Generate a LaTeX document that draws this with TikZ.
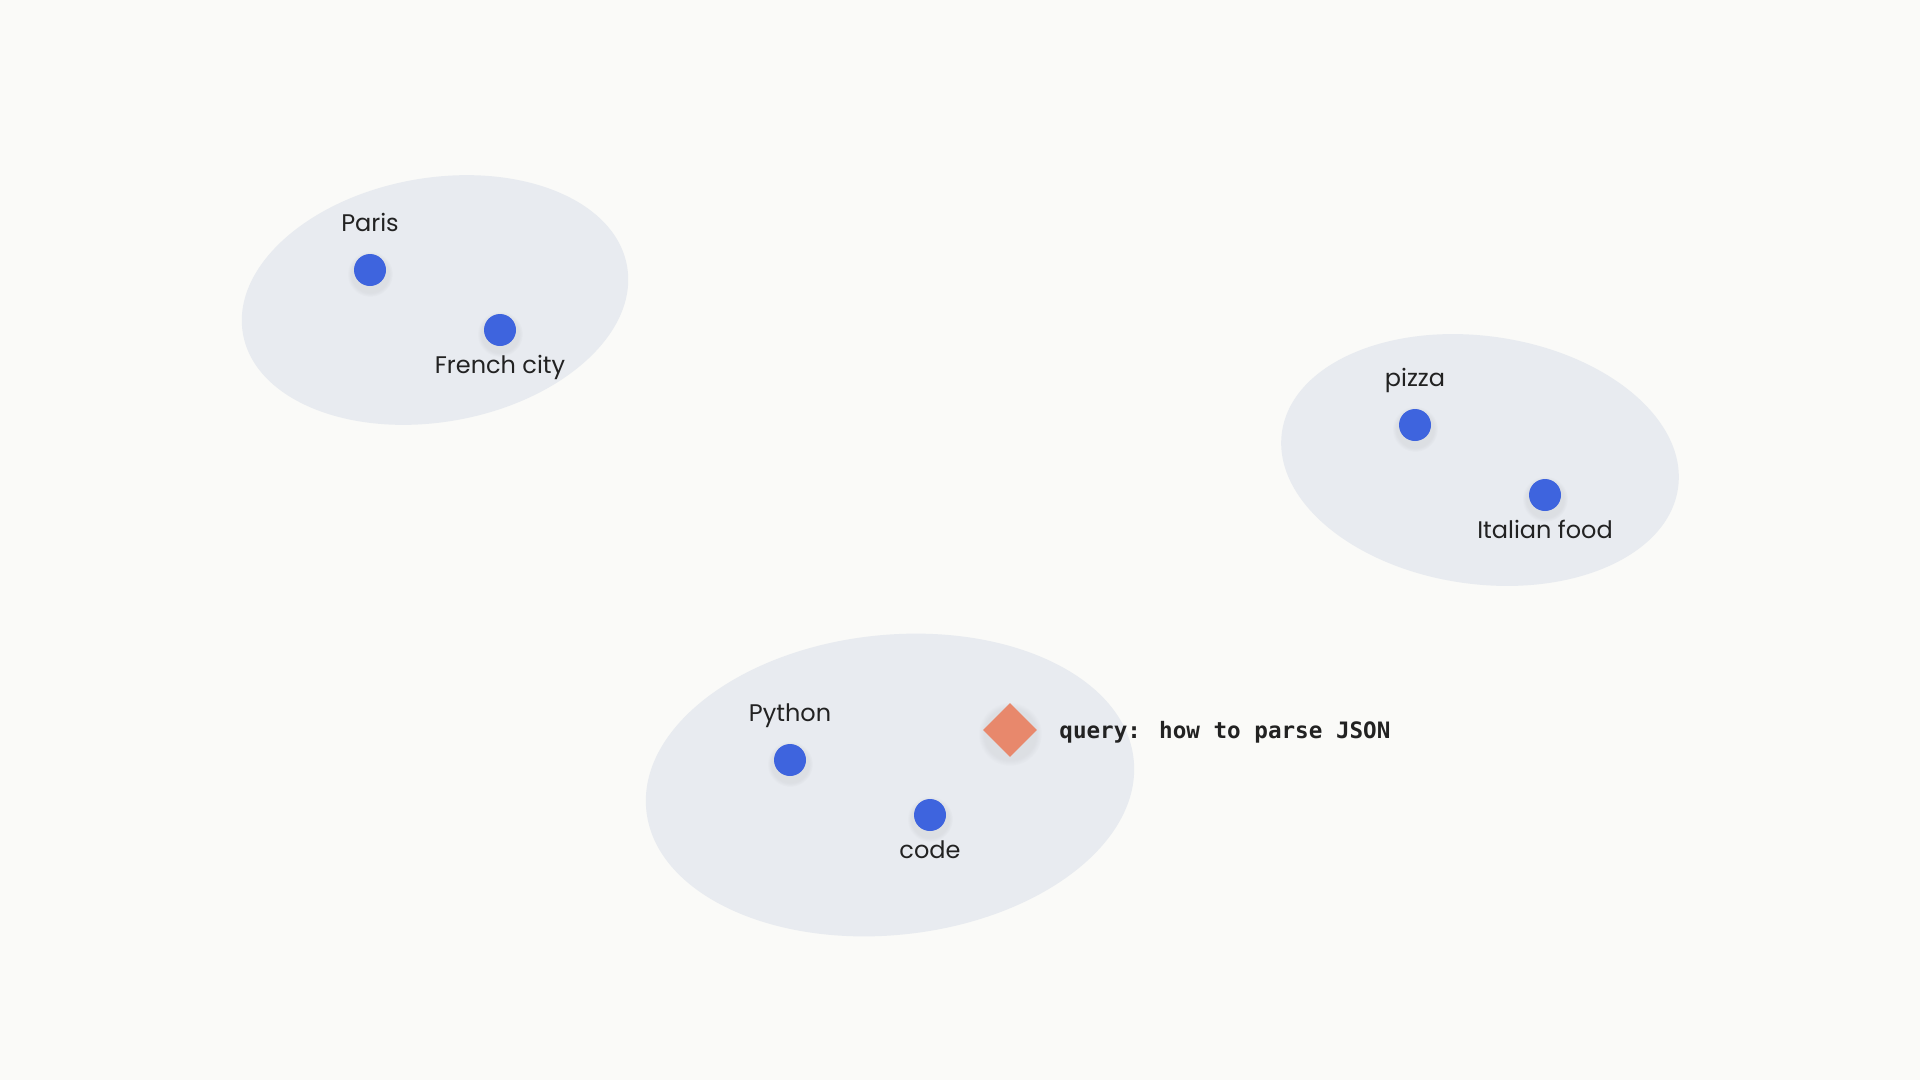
\documentclass[tikz,border=0pt]{standalone}
\usepackage{fontspec}
\setmainfont{Poppins}
\newfontfamily\codefont{DejaVu Sans Mono}
\usepackage{tikz}
\usetikzlibrary{shapes.geometric,positioning,fadings,backgrounds}
\definecolor{bgcol}{HTML}{FAFAF8}
\definecolor{blobcol}{HTML}{E8EBF0}
\definecolor{dotblue}{HTML}{3E64DE}
\definecolor{qrycol}{HTML}{E8886C}
\definecolor{inkcol}{HTML}{222222}

\begin{document}
\begin{tikzpicture}[x=1pt,y=-1pt,
  softshadow/.style={fill=black,fill opacity=0.05,path fading=circle with fuzzy edge 20 percent},
  dot/.style={circle,fill=dotblue,minimum size=32pt,inner sep=0pt},
  lbl/.style={inner sep=0pt,text height=17pt,text depth=5pt,text=inkcol,font=\fontsize{24}{28}\selectfont},
  qry/.style={diamond,fill=qrycol,minimum size=54pt,inner sep=0pt},
  qrylbl/.style={inner sep=0pt,text height=16pt,text depth=0pt,text=inkcol,font=\codefont\bfseries\fontsize{22.6}{28}\selectfont}]
\useasboundingbox (0,0) rectangle (1920,1080);

\node[dot] (paris) at (370,270) {};
\node[dot] (frcity) at (500,330) {};
\node[dot] (pizza) at (1415,425) {};
\node[dot] (itfood) at (1545,495) {};
\node[dot] (python) at (790,760) {};
\node[dot] (code) at (930,815) {};
\node[qry] (query) at (1010,730) {};

\node[lbl,above=17pt of paris] (parislbl) {Paris};
\node[lbl,below=10pt of frcity] (frcitylbl) {French city};
\node[lbl,above=17pt of pizza] (pizzalbl) {pizza};
\node[lbl,below=10pt of itfood] (itfoodlbl) {Italian food};
\node[lbl,above=17pt of python] (pythonlbl) {Python};
\node[lbl,below=10pt of code] (codelbl) {code};
\node[qrylbl,right=22pt of query] (querylbl) {query: how to parse JSON};

\begin{scope}[on background layer]
\fill[bgcol] (0,0) rectangle (1920,1080);
\fill[blobcol,shift={(435,300)},rotate=10] (0,0) ellipse [x radius=195pt,y radius=122pt];
\fill[blobcol,shift={(1480,460)},rotate=-8] (0,0) ellipse [x radius=200pt,y radius=124pt];
\fill[blobcol,shift={(890,785)},rotate=6] (0,0) ellipse [x radius=245pt,y radius=150pt];
\foreach \n in {paris,frcity,pizza,itfood,python,code}
  \fill[softshadow] ([yshift=-4pt]\n.center) circle (23pt);
\fill[softshadow] ([yshift=-4pt]query.center) circle (32pt);
\end{scope}

\end{tikzpicture}
\end{document}
